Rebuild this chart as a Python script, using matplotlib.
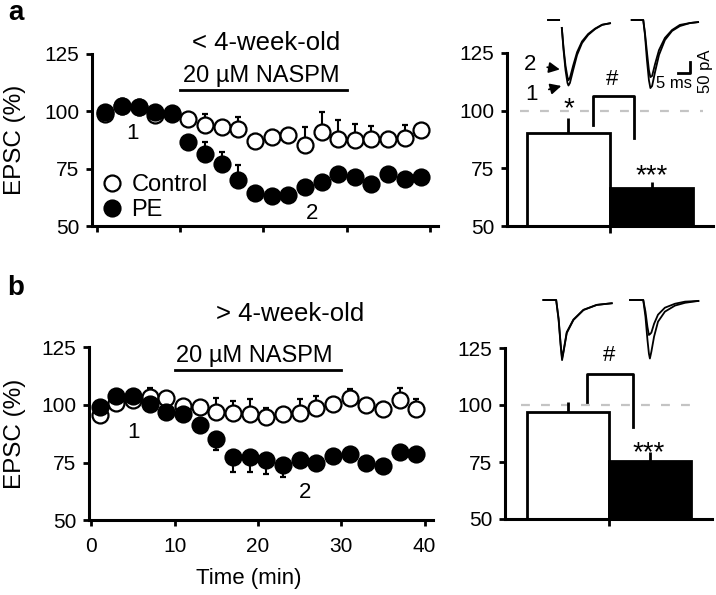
import matplotlib
matplotlib.use("Agg")
import matplotlib.pyplot as plt
from matplotlib.lines import Line2D
import numpy as np

plt.rcParams['font.family'] = ['Liberation Sans', 'DejaVu Sans']

W, H = 716, 595  # output size in pixels

# ---- time course, EPSC (% of baseline) ----
time_min = [1, 3, 5, 7, 9, 11, 13, 15, 17, 19, 21, 23, 25, 27, 29, 31, 33, 35, 37, 39]

ctrl_young = [99, 102.5, 102, 98.5, 99, 96.8, 94.2, 93.2, 92.4, 87, 88.8, 89.5,
              85.2, 91, 88.1, 87.3, 88.1, 88.1, 88.4, 91.7]
ctrl_young_sem = [2, 2, 2, 2, 2, 2, 4.5, 2, 5, 3, 3, 3, 8, 8.5, 8, 7, 5.5, 3, 5.5, 2]
pe_young = [99.7, 102.3, 101.9, 99.7, 99.4, 86.6, 81.5, 77.2, 69.9, 64.3, 63, 63.7,
            67, 69, 72.6, 71.3, 68.5, 72.6, 70.6, 71.5]
pe_young_sem = [2, 2, 2, 2, 2, 2, 5, 5, 6.5, 2, 2, 2, 2, 2, 2, 2, 2, 2, 2, 2]

ctrl_old = [95.6, 101, 102, 103.5, 103, 99.5, 99, 97, 96.7, 96, 95, 96, 96.5,
            98.5, 100.5, 103, 100, 98.2, 102.2, 98.1]
ctrl_old_sem = [2, 2, 2, 4, 2, 2, 2, 6, 5, 6.5, 3.7, 2, 6, 5.2, 2, 3.8, 2, 3, 5, 4.5]
pe_old = [99.3, 103.7, 103.7, 100.3, 97, 96, 91.2, 85.3, 77.2, 77.3, 76, 74, 76,
          75, 78, 78.7, 75, 73.6, 79.7, 78.7]
pe_old_sem = [2, 2, 2, 2, 2, 2, 2, 5, 6.5, 6.5, 6, 5.2, 3, 3, 3, 3, 3, 3, 2, 2]

# ---- summary bars ----
bar_groups = ['Control', 'PE']
bar_colors = ['white', 'black']
bar_young = [90.5, 66.5]
bar_young_sem = [6.3, 2.6]
bar_old = [97, 75.4]
bar_old_sem = [4.3, 4.0]

# ---- example EPSC traces (ms, pA), 1 = baseline, 2 = in NASPM ----
ctrl_young_tr_t = [0, 4.5, np.nan, 5.6, 6.3, 7.1, 7.9, 8.3, 8.9, 10.2, 11.8, 13.8, 16.3, 19.1, 22.0, 25.2]
ctrl_young_tr1 = [0, 0, np.nan, -34, -129, -215, -270, -281, -270, -215, -150, -99, -64, -39, -21, -14]
ctrl_young_tr2 = [0, 0, np.nan, -34, -120, -196, -245, -258, -248, -196, -138, -92, -60, -37, -20, -14]
pe_young_tr_t = [0, 4.7, 5.4, 6.2, 7.0, 7.6, 8.3, 9.5, 11.1, 13.5, 16.4, 19.6, 23.7, 27.0]
pe_young_tr1 = [0, 0, -64, -172, -258, -292, -283, -223, -150, -86, -47, -26, -13, -9]
pe_young_tr2 = [0, 0, -56, -137, -215, -245, -240, -189, -129, -77, -43, -21, -13, -9]

ctrl_old_tr_t = [0, 5.2, 6.2, 7.0, 7.6, 8.2, 9.5, 12.2, 16.3, 21.7, 27.8]
ctrl_old_tr1 = [0, 0, -86, -193, -258, -223, -142, -86, -43, -21, -14]
ctrl_old_tr2 = [0, 0, -80, -185, -250, -218, -138, -84, -42, -21, -14]
pe_old_tr_t = [0, 5.4, 6.3, 7.1, 7.7, 8.1, 8.7, 9.8, 11.4, 14.2, 18.3, 22.4, 27.8]
pe_old_tr1 = [0, 0, -72, -170, -230, -251, -222, -157, -93, -50, -24, -12, -4]
pe_old_tr2 = [0, 0, -50, -115, -150, -147, -140, -102, -63, -33, -16, -7, -4]

fig = plt.figure(figsize=(W / 100, H / 100), dpi=100)


def px_axes(left, top, right, bottom):
    return fig.add_axes([left / W, 1 - bottom / H, (right - left) / W, (bottom - top) / H])


def style_axes(ax):
    for s in ('top', 'right'):
        ax.spines[s].set_visible(False)
    for s in ('left', 'bottom'):
        ax.spines[s].set_linewidth(2.2)
    ax.tick_params(direction='out', length=4, width=2, labelsize=15, pad=5)
    ax.set_ylim(50, 125)
    ax.set_yticks([50, 75, 100, 125])
    ax.patch.set_visible(False)


def time_course(ax, ctrl, ctrl_sem, pe, pe_sem, pe_down=False):
    zeros = np.zeros(len(time_min))
    ax.errorbar(time_min, ctrl, yerr=[zeros, ctrl_sem], fmt='o', ms=11.5,
                mfc='white', mec='black', mew=1.6, ecolor='black',
                elinewidth=1.5, capsize=2, capthick=1.5, zorder=3)
    pe_err = [pe_sem, zeros] if pe_down else [zeros, pe_sem]
    ax.errorbar(time_min, pe, yerr=pe_err, fmt='o', ms=11.5,
                mfc='black', mec='black', mew=1.6, ecolor='black',
                elinewidth=1.5, capsize=2, capthick=1.5, zorder=4)
    style_axes(ax)
    ax.set_xticks([0, 10, 20, 30, 40])


def bar_panel(ax, vals, sem):
    bar_x = np.arange(len(bar_groups))
    ax.bar(bar_x, vals, width=1, color=bar_colors, edgecolor='black',
           linewidth=2, zorder=2)
    ax.errorbar(bar_x, vals, yerr=[[0] * len(sem), sem], fmt='none',
                ecolor='black', elinewidth=2, capsize=0, zorder=3)
    style_axes(ax)
    ax.set_xticks([0.5])
    ax.set_xticklabels([])
    ax.tick_params(axis='x', length=5)
    ax.plot([-0.58, 1.62], [100, 100], ls=(0, (4, 5)), color='#c4c4c4',
            lw=1.6, zorder=0.5, clip_on=False)


def trace_axes(top_px):
    ax = px_axes(520, top_px, 716, top_px + 92)
    ax.set_xlim(0, 196 / 2.46)
    ax.set_ylim(-80 * 4.29, 12 * 4.29)
    ax.axis('off')
    return ax


def draw_traces(ax, t, tr1, tr2, offset):
    tt = np.array(t) + offset
    ax.plot(tt, tr1, color='black', lw=1.3)
    ax.plot(tt, tr2, color='black', lw=1.3)


# ---------------- panel a ----------------
ax_a = px_axes(92, 54, 438, 226)
time_course(ax_a, ctrl_young, ctrl_young_sem, pe_young, pe_young_sem)
ax_a.set_xlim(-0.6, 41)
ax_a.set_xticklabels([])
ax_a.set_ylabel('EPSC (%)', fontsize=17.5)
ax_a.yaxis.set_label_coords(-0.19, 0.5)
ax_a.plot([10, 30], [109.2, 109.2], color='black', lw=2, clip_on=False)
ax_a.text(19.8, 115.3, '20 µM NASPM', fontsize=17, ha='center', va='center')
ax_a.text(20.3, 129.7, '< 4-week-old', fontsize=18.5, ha='center', va='center')
ax_a.text(4.3, 90.3, '1', fontsize=16, ha='center', va='center')
ax_a.text(25.8, 55.3, '2', fontsize=16, ha='center', va='center')
handles = [Line2D([], [], ls='none', marker='o', ms=11.5, mfc='white', mec='black', mew=1.6),
           Line2D([], [], ls='none', marker='o', ms=11.5, mfc='black', mec='black', mew=1.6)]
ax_a.legend(handles, ['Control', 'PE'], loc='upper left', bbox_to_anchor=(0.025, 0.30),
            frameon=False, fontsize=17, handlelength=1, handletextpad=0.3,
            labelspacing=0.12, borderaxespad=0, borderpad=0)

bar_a = px_axes(507, 53, 713, 226)
bar_panel(bar_a, bar_young, bar_young_sem)
bar_a.set_xlim(-0.74, 1.74)
bar_a.plot([0.3, 0.3, 0.79, 0.79], [94, 106.2, 106.2, 88.1], color='black', lw=2, clip_on=False)
bar_a.text(0.53, 113.5, '#', fontsize=16, ha='center', va='center')
bar_a.text(0.0, 100.5, '*', fontsize=20, ha='center', va='center')
bar_a.text(1.0, 71.5, '***', fontsize=20, ha='center', va='center')

tr_a = trace_axes(8)
draw_traces(tr_a, ctrl_young_tr_t, ctrl_young_tr1, ctrl_young_tr2, 11.4)
draw_traces(tr_a, pe_young_tr_t, pe_young_tr1, pe_young_tr2, 45.4)
tr_a.plot([64.1, 69.1, 69.1], [-229, -229, -179], color='black', lw=2)
tr_a.text(62.4, -272, '5 ms', fontsize=12, ha='center', va='center')
tr_a.text(75.3, -222, '50 pA', fontsize=12, ha='center', va='center', rotation=90)
tr_a.annotate('2', xy=(16.2, -212), xytext=(4.1, -190), fontsize=16, ha='center', va='center',
              arrowprops=dict(arrowstyle='-|>', color='black', lw=1.3, shrinkA=6, shrinkB=0))
tr_a.annotate('1', xy=(16.8, -283), xytext=(4.8, -318), fontsize=16, ha='center', va='center',
              arrowprops=dict(arrowstyle='-|>', color='black', lw=1.3, shrinkA=6, shrinkB=0))

# ---------------- panel b ----------------
ax_b = px_axes(89, 347.5, 433, 520)
time_course(ax_b, ctrl_old, ctrl_old_sem, pe_old, pe_old_sem, pe_down=True)
ax_b.set_xlim(-0.3, 41)
ax_b.set_ylabel('EPSC (%)', fontsize=17.5)
ax_b.yaxis.set_label_coords(-0.183, 0.5)
ax_b.set_xlabel('Time (min)', fontsize=16)
ax_b.xaxis.set_label_coords(0.465, -0.28)
ax_b.tick_params(axis='x', pad=8)
ax_b.plot([10, 30], [115.4, 115.4], color='black', lw=2, clip_on=False)
ax_b.text(19.6, 121.3, '20 µM NASPM', fontsize=17, ha='center', va='center')
ax_b.text(23.9, 139.6, '> 4-week-old', fontsize=18.5, ha='center', va='center')
ax_b.text(5.0, 88.2, '1', fontsize=16, ha='center', va='center')
ax_b.text(25.6, 61.8, '2', fontsize=16, ha='center', va='center')

bar_b = px_axes(505, 348, 712, 519)
bar_panel(bar_b, bar_old, bar_old_sem)
bar_b.set_xlim(-0.77, 1.76)
bar_b.plot([0.23, 0.23, 0.8, 0.8], [101.3, 113.6, 113.6, 90.4], color='black', lw=2, clip_on=False)
bar_b.text(0.5, 121.9, '#', fontsize=16, ha='center', va='center')
bar_b.text(0.99, 78.8, '***', fontsize=20, ha='center', va='center')

tr_b = trace_axes(288)
draw_traces(tr_b, ctrl_old_tr_t, ctrl_old_tr1, ctrl_old_tr2, 9.5)
draw_traces(tr_b, pe_old_tr_t, pe_old_tr1, pe_old_tr2, 44.7)

fig.text(16 / W, 1 - 20.5 / H, 'a', fontsize=20, fontweight='bold', ha='center', va='baseline')
fig.text(16 / W, 1 - 295 / H, 'b', fontsize=20, fontweight='bold', ha='center', va='baseline')

fig.savefig('out.png', dpi=100)
